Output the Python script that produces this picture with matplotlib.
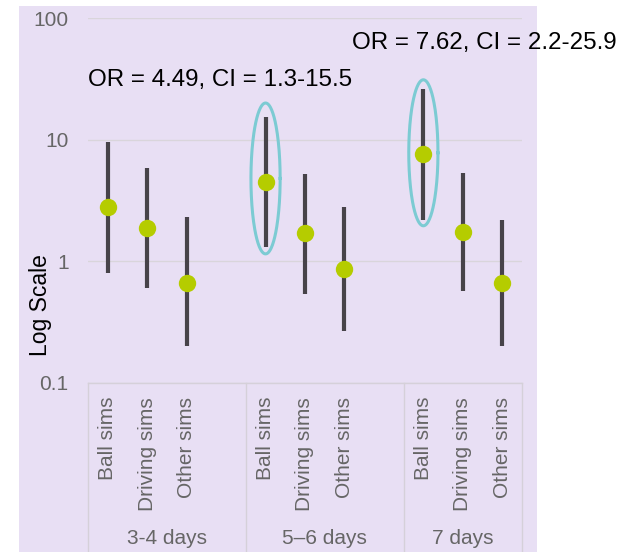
import numpy as np
import matplotlib
matplotlib.use("Agg")
import matplotlib.pyplot as plt
from matplotlib.patches import Rectangle
from matplotlib.transforms import blended_transform_factory

plt.rcParams['font.family'] = ['Liberation Sans', 'DejaVu Sans']

# data
groups = ["3-4 days", "5\u20136 days", "7 days"]
sims = ["Ball sims", "Driving sims", "Other sims"]
odds = [2.77, 1.87, 0.66, 4.49, 1.70, 0.86, 7.62, 1.73, 0.66]
ci_low = [0.80, 0.60, 0.20, 1.3, 0.54, 0.27, 2.2, 0.57, 0.20]
ci_high = [9.6, 5.9, 2.3, 15.5, 5.2, 2.8, 25.9, 5.3, 2.2]
notes = ["OR = 4.49, CI = 1.3-15.5", "OR = 7.62, CI = 2.2-25.9"]

bg = '#E8DFF4'
W, H = 631, 552
fig = plt.figure(figsize=(W / 100, H / 100), dpi=100)
fig.patch.set_facecolor('white')
# purple panel behind everything
fig.patches.append(Rectangle((19 / W, 0), (537 - 19) / W, (H - 6) / H,
                             transform=fig.transFigure, facecolor=bg,
                             edgecolor='none', zorder=-5))

ax = fig.add_axes([88 / W, 1 - 383 / H, 434 / W, 365 / H])
ax.patch.set_alpha(0)

# positions: 3 per group with one empty slot between groups
x = np.array([g * 4 + i for g in range(3) for i in range(3)], dtype=float)
odds = np.array(odds)
lo = odds - np.array(ci_low)
hi = np.array(ci_high) - odds

ax.errorbar(x, odds, yerr=[lo, hi], fmt='none', ecolor='#474349',
            elinewidth=3, capsize=0, zorder=3)
ax.plot(x, odds, 'o', color='#B5CC00', markersize=12.5,
        markeredgewidth=0, zorder=4)

# ellipses around the highlighted estimates (in log space)
t = np.linspace(0, 2 * np.pi, 200)
for xi, yc, hh in [(x[3], 4.8, 0.62), (x[6], 7.8, 0.60)]:
    ax.plot(xi + 0.37 * np.cos(t), 10 ** (np.log10(yc) + hh * np.sin(t)),
            color='#7CCBD3', lw=2.2, zorder=5)

ax.set_yscale('log')
ax.set_ylim(0.1, 100)
ax.set_xlim(-0.5, 10.5)
ax.set_yticks([0.1, 1, 10, 100])
ax.set_yticklabels(['0.1', '1', '10', '100'])
ax.yaxis.set_minor_locator(matplotlib.ticker.NullLocator())
ax.tick_params(axis='y', length=0, pad=14, labelsize=15, labelcolor='#666666')
ax.grid(axis='y', color='#D9D5DB', lw=1)
ax.set_axisbelow(True)
for s in ax.spines.values():
    s.set_visible(False)

ax.set_xticks(x)
ax.set_xticklabels(sims * 3, rotation=90, fontsize=15, color='#666666')
ax.tick_params(axis='x', length=0, pad=10)

# box lines of the category axis
trans = blended_transform_factory(ax.transData, ax.transAxes)
bottom = -(H - 383) / 365
ax.plot([-0.5, 10.5], [0, 0], transform=trans, color='#D5D0D9', lw=1,
        clip_on=False)
for xv in [-0.5, 3.5, 7.5, 10.5]:
    ax.plot([xv, xv], [0, bottom], transform=trans, color='#D5D0D9', lw=1,
            clip_on=False)
for g, name in enumerate(groups):
    xc = (max(-0.5, g * 4 - 0.5) + min(10.5, g * 4 + 3.5)) / 2
    ax.text(xc, -(538 - 383) / 365, name, transform=trans, ha='center',
            va='center', fontsize=15, color='#666666')

fig.text(41 / W, 1 - 305 / H, 'Log Scale', rotation=90, ha='center',
         va='center', fontsize=16.5, color='black')

fig.text(88 / W, 1 - 80 / H, notes[0], ha='left', va='center', fontsize=17.4)
fig.text(352 / W, 1 - 43 / H, notes[1], ha='left', va='center', fontsize=17.4)

fig.savefig('out.png', dpi=100)
